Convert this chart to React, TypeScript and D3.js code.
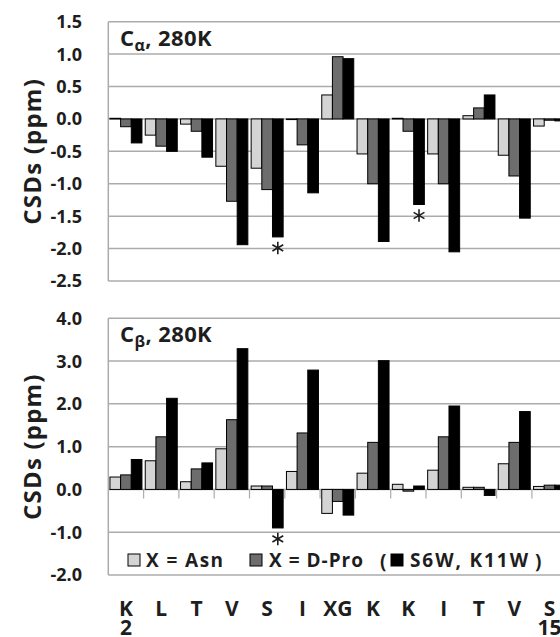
import React from "react";
import * as d3 from "d3";

// residues along the x axis (duplicates, so bands are keyed by index)
const residues = ["K", "L", "T", "V", "S", "I", "XG", "K", "K", "I", "T", "V", "S"];
const residueNumbers = ["2", "", "", "", "", "", "", "", "", "", "", "", "15"];

const seriesNames = ["X = Asn", "X = D-Pro", "S6W, K11W"];
const seriesFill = ["#d4d4d4", "#6d6d6d", "#000000"];

// C-alpha CSDs (ppm)
const caAsn = [0.01, -0.25, -0.08, -0.73, -0.76, -0.01, 0.37, -0.54, 0.01, -0.54, 0.05, -0.56, -0.11];
const caDPro = [-0.12, -0.42, -0.19, -1.27, -1.09, -0.4, 0.96, -1.0, -0.19, -1.0, 0.17, -0.88, -0.02];
const caTrp = [-0.37, -0.5, -0.59, -1.94, -1.82, -1.14, 0.93, -1.89, -1.32, -2.05, 0.37, -1.53, -0.03];

// C-beta CSDs (ppm)
const cbAsn = [0.29, 0.67, 0.18, 0.95, 0.08, 0.42, -0.56, 0.38, 0.12, 0.45, 0.05, 0.6, 0.07];
const cbDPro = [0.34, 1.23, 0.48, 1.63, 0.08, 1.32, -0.28, 1.1, -0.04, 1.23, 0.05, 1.1, 0.1];
const cbTrp = [0.7, 2.13, 0.62, 3.29, -0.9, 2.79, -0.6, 3.01, 0.08, 1.95, -0.14, 1.82, 0.1];

const caTicks = [1.5, 1.0, 0.5, 0.0, -0.5, -1.0, -1.5, -2.0, -2.5];
const cbTicks = [4.0, 3.0, 2.0, 1.0, 0.0, -1.0, -2.0];

// asterisks: residue index, series index
const caStars = [[4, 2], [8, 2]];
const cbStars = [[4, 2]];

const FONT = "'Open Sans', Lato, sans-serif";
const GRID = "#ababab";
const INK = "#1e1e1e";

const x0 = 108.3;
const bandW = 35.3;
const x = d3.scaleBand<number>()
  .domain(residues.map((_, i) => i))
  .range([x0, x0 + bandW * residues.length])
  .paddingInner(0)
  .paddingOuter(0);
const xInner = d3.scaleBand<number>()
  .domain([0, 1, 2])
  .range([0, x.bandwidth()])
  .paddingOuter(0.155)
  .paddingInner(0);

const star = d3.symbol().type(d3.symbolAsterisk).size(110)();

const Panel = ({ series, ticks, yTop, yBottom, sub, stars, showTicks }) => {
  const y = d3.scaleLinear()
    .domain([ticks[ticks.length - 1], ticks[0]])
    .range([yBottom, yTop]);
  const right = x.range()[1];
  return (
    <g>
      {ticks.map(t => (
        <g key={t}>
          <line x1={x0} x2={right} y1={y(t)} y2={y(t)} stroke={GRID} strokeWidth={1.5} />
          <text x={82} y={y(t)} dy="0.36em" textAnchor="end" fontFamily={FONT}
            fontWeight="bold" fontSize={18} fill={INK}>{t.toFixed(1)}</text>
        </g>
      ))}
      <line x1={x0} x2={x0} y1={y(ticks[0])} y2={y(ticks[ticks.length - 1])} stroke={GRID} strokeWidth={1.5} />
      {showTicks && residues.map((_, i) => (
        <line key={i} x1={x.range()[0] + bandW * (i + 1)} x2={x.range()[0] + bandW * (i + 1)}
          y1={y(0)} y2={y(0) + 9} stroke={GRID} strokeWidth={1.2} />
      ))}
      {series.map((vals, s) => vals.map((v, i) => (
        <rect key={`${s}-${i}`}
          x={x(i) + xInner(s)}
          y={Math.min(y(v), y(0))}
          width={xInner.bandwidth()}
          height={Math.max(Math.abs(y(v) - y(0)), 0.5)}
          fill={seriesFill[s]} stroke="#000" strokeWidth={1} />
      )))}
      {stars.map(([i, s]) => (
        <path key={`star-${i}`} d={star}
          transform={`translate(${x(i) + xInner(s) + xInner.bandwidth() / 2}, ${y(series[s][i]) + 11})`}
          fill="none" stroke={INK} strokeWidth={1.6} />
      ))}
      <text x={120} y={y(ticks[0]) + 24} fontFamily={FONT} fontWeight="bold" fontSize={22}
        letterSpacing={0.4} fill={INK}>
        C<tspan fontSize={16} dy={5}>{sub}</tspan><tspan dy={-5}>, 280K</tspan>
      </text>
      <text transform={`translate(41, ${(y(ticks[0]) + y(ticks[ticks.length - 1])) / 2}) rotate(-90)`}
        textAnchor="middle" fontFamily={FONT} fontWeight="bold" fontSize={24} letterSpacing={1.2}
        fill={INK}>CSDs (ppm)</text>
    </g>
  );
};

const LegendBox = ({ x: lx, fill }) => (
  <rect x={lx} y={554} width={12} height={12} fill={fill} stroke="#000" strokeWidth={1} />
);

export default function App() {
  return (
    <svg width={560} height={637} style={{ position: "absolute", left: 0, top: 0, background: "#fff" }}>
      <rect width={560} height={637} fill="#fff" />
      <Panel series={[caAsn, caDPro, caTrp]} ticks={caTicks} yTop={21.7} yBottom={281}
        sub="α" stars={caStars} showTicks={false} />
      <Panel series={[cbAsn, cbDPro, cbTrp]} ticks={cbTicks} yTop={318.3} yBottom={575}
        sub="β" stars={cbStars} showTicks={true} />

      {/* legend */}
      <g fontFamily={FONT} fontWeight="bold" fontSize={19} fill={INK}>
        <LegendBox x={128} fill={seriesFill[0]} />
        <text x={146} y={567} textLength={77} lengthAdjust="spacing">{seriesNames[0]}</text>
        <LegendBox x={250} fill={seriesFill[1]} />
        <text x={269} y={567} textLength={94} lengthAdjust="spacing">{seriesNames[1]}</text>
        <text x={380} y={568}>(</text>
        <LegendBox x={391} fill={seriesFill[2]} />
        <text x={410} y={567} textLength={118} lengthAdjust="spacing">{seriesNames[2]}</text>
        <text x={535} y={568}>)</text>
      </g>

      {/* residue labels */}
      <g fontFamily={FONT} fontWeight="bold" fontSize={21} fill={INK} textAnchor="middle">
        {residues.map((r, i) => (
          <text key={i} x={x(i) + x.bandwidth() / 2} y={616}>{r}</text>
        ))}
        {residueNumbers.map((n, i) => n && (
          <text key={`n${i}`} x={x(i) + x.bandwidth() / 2} y={635}>{n}</text>
        ))}
      </g>
    </svg>
  );
}
